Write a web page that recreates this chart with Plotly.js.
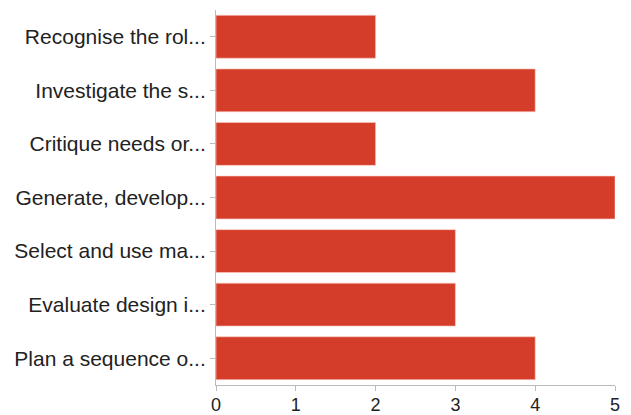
<!DOCTYPE html>
<html><head><meta charset="utf-8">
<script src="https://cdn.plot.ly/plotly-3.0.1.min.js"></script>
<style>html,body{margin:0;padding:0;background:#fff}</style>
</head><body><div id="chart" style="width:631px;height:415px"></div>
<script>
const categories = ["Recognise the rol...","Investigate the s...","Critique needs or...","Generate, develop...","Select and use ma...","Evaluate design i...","Plan a sequence o..."];
const values = [2,4,2,5,3,3,4];
const xTicks = [0,1,2,3,4,5];

Plotly.newPlot('chart',[{
  type:'bar', orientation:'h', y:categories, x:values,
  marker:{color:'#d33d2a', line:{color:'rgba(255,200,190,0.6)', width:1}},
  hoverinfo:'none'
}],{
  width:631,height:415,
  margin:{l:216,r:16,t:10,b:30},
  bargap:0.2,
  showlegend:false,
  paper_bgcolor:'#fff', plot_bgcolor:'#fff',
  font:{family:'Liberation Sans, Arial, sans-serif', color:'#222', size:20},
  xaxis:{range:[0,5], tickvals:xTicks, ticks:'outside', ticklen:5, tickcolor:'#bbb',
         showgrid:false, zeroline:false, showline:true, linecolor:'#bbb', linewidth:1,
         tickfont:{size:18}, ticklabelstandoff:-2, fixedrange:true},
  yaxis:{autorange:'reversed', ticks:'outside', ticklen:5, tickcolor:'#bbb',
         showgrid:false, zeroline:false, showline:true, linecolor:'#bbb', linewidth:1,
         tickfont:{size:21}, fixedrange:true}
},{displayModeBar:false, staticPlot:true});
</script></body></html>
